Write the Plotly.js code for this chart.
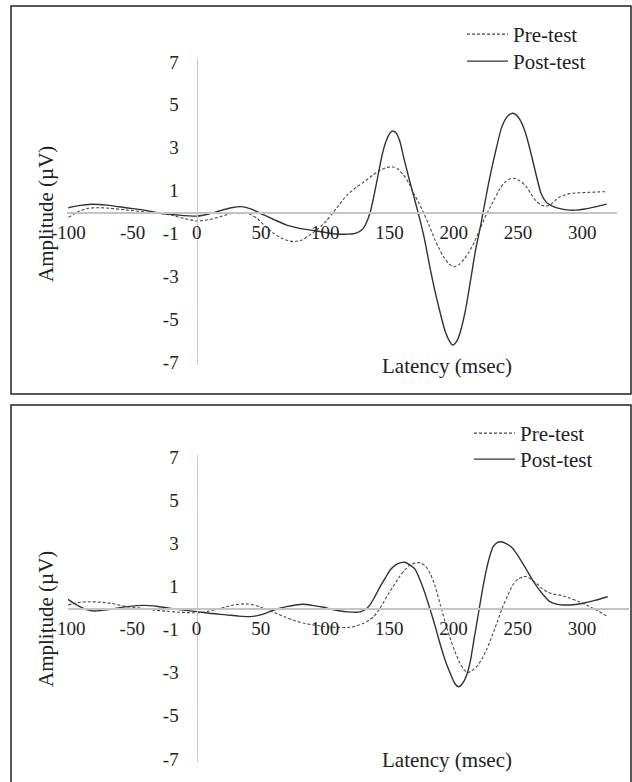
<!DOCTYPE html>
<html>
<head>
<meta charset="utf-8">
<script src="https://cdn.plot.ly/plotly-3.0.1.min.js"></script>
<style>html,body{margin:0;padding:0;background:#fff;}#chart{width:632px;height:782px;}</style>
</head>
<body>
<div id="chart"></div>
<script>
// ---------- data ----------
const xTicks = [-100, -50, 0, 50, 100, 150, 200, 250, 300];
const xTickText = ["-100", "-50", "0", "50", "100", "150", "200", "250", "300"];
const yTicks = [-7, -5, -3, -1, 1, 3, 5, 7];
const yTickText = ["-7", "-5", "-3", "-1", "1", "3", "5", "7"];
const seriesNames = ["Pre-test", "Post-test"];

// Panel A (top)
const topPreX = [-100,-92,-85,-75,-67,-55,-41,-30,-20,-10,0,10,18,27,35,42,47,53,60,67,75,82,88,95,101,105,109,117,124,130,137,143,148,152,157,161,165,169,173,177,181,185,189,192,196,200,204,208,212,216,220,224,228,232,236,240,244,247,251,256,260,264,268,271,275,279,283,290,298,306,313,319];
const topPreY = [-0.25,0.02,0.17,0.2,0.17,0.1,0.01,-0.06,-0.14,-0.3,-0.42,-0.35,-0.22,-0.07,-0.02,-0.12,-0.3,-0.65,-1.0,-1.25,-1.38,-1.3,-1.07,-0.75,-0.4,-0.1,0.2,0.8,1.15,1.4,1.72,1.96,2.08,2.11,1.98,1.72,1.35,0.85,0.4,-0.1,-0.65,-1.25,-1.75,-2.08,-2.4,-2.55,-2.45,-2.2,-1.85,-1.4,-0.85,-0.28,0.2,0.65,1.1,1.4,1.55,1.57,1.47,1.22,0.85,0.52,0.33,0.28,0.33,0.55,0.72,0.86,0.9,0.92,0.94,0.95];
const topPostX = [-100,-92,-82,-70,-55,-42,-28,-15,0,10,18,27,35,42,50,60,70,80,91,100,110,118,124,129,132,135,138,141,144,147,150,152,155,158,161,165,169,173,177,181,185,189,193,196,199,202,205,209,213,217,221,225,229,233,237,241,245,248,252,256,260,264,268,272,276,281,288,295,302,310,319];
const topPostY = [0.2,0.3,0.36,0.32,0.2,0.1,-0.06,-0.14,-0.19,-0.08,0.06,0.2,0.25,0.15,-0.07,-0.35,-0.61,-0.76,-0.86,-0.95,-1.03,-1.03,-0.98,-0.8,-0.5,0.0,0.8,1.7,2.6,3.25,3.65,3.78,3.7,3.3,2.55,1.6,0.7,-0.2,-1.2,-2.45,-3.6,-4.6,-5.5,-5.95,-6.2,-6.05,-5.6,-4.6,-3.2,-1.75,-0.6,0.7,1.9,2.95,3.9,4.4,4.6,4.55,4.25,3.65,2.75,1.75,0.85,0.45,0.3,0.18,0.1,0.09,0.14,0.24,0.37];

// Panel B (bottom)
const botPreX = [-100,-92,-83,-75,-67,-54,-42,-34,-24,-15,-5,3,10,16,22,29,35,39,44,49,55,62,69,75,83,91,100,109,119,125,130,134,138,143,148,153,158,162,166,170,174,178,182,186,190,194,197,201,205,208,211,214,218,222,226,230,234,238,242,246,250,254,257,261,265,269,273,278,284,291,297,304,312,320];
const botPreY = [0.14,0.25,0.29,0.27,0.22,0.06,-0.02,-0.09,-0.15,-0.19,-0.22,-0.22,-0.14,-0.06,0.04,0.14,0.18,0.19,0.15,0.06,-0.08,-0.25,-0.42,-0.56,-0.7,-0.79,-0.86,-0.9,-0.9,-0.82,-0.71,-0.58,-0.4,0.0,0.52,1.0,1.45,1.75,1.99,2.08,2.1,1.95,1.58,0.95,0.1,-0.75,-1.33,-2.0,-2.56,-2.85,-3.0,-2.92,-2.72,-2.38,-1.9,-1.3,-0.65,0.0,0.55,1.05,1.33,1.45,1.45,1.3,1.12,0.9,0.74,0.64,0.58,0.45,0.3,0.12,-0.12,-0.4];
const botPostX = [-100,-95,-90,-85,-80,-72,-67,-54,-41,-30,-20,-10,0,12,23,33,42,50,57,63,70,77,83,90,99,105,112,118,124,128,132,135,139,143,147,151,155,159,162,166,170,174,178,182,186,190,194,198,201,204,207,210,213,216,219,222,225,228,231,234,237,241,246,251,257,261,265,270,275,280,285,293,301,310,320];
const botPostY = [0.4,0.2,0.04,-0.09,-0.14,-0.1,-0.06,0.06,0.12,0.07,-0.02,-0.1,-0.17,-0.26,-0.32,-0.38,-0.4,-0.32,-0.17,-0.04,0.06,0.14,0.17,0.12,0.03,-0.06,-0.14,-0.18,-0.2,-0.17,-0.05,0.14,0.55,1.0,1.4,1.78,2.0,2.1,2.12,2.0,1.8,1.3,0.65,-0.1,-0.9,-1.75,-2.5,-3.1,-3.5,-3.65,-3.5,-3.15,-2.5,-1.45,-0.4,0.65,1.6,2.35,2.85,3.03,3.07,2.98,2.77,2.35,1.76,1.35,0.99,0.6,0.29,0.18,0.14,0.15,0.22,0.35,0.52];

// ---------- layout helpers (pixel -> paper) ----------
const W = 632, H = 782;
const px = v => v / W;
const py = v => 1 - v / H;
const FONT = "Liberation Serif, Times New Roman, serif";
const TXT = "#222";

const preStyle = {color: "#4a4a4a", width: 1.1, dash: "3px,2px", shape: "spline", smoothing: 0.6};
const postStyle = {color: "#333", width: 1.4, shape: "spline", smoothing: 0.6};

const traces = [
  {x: topPreX, y: topPreY, name: seriesNames[0], mode: "lines", line: preStyle, xaxis: "x", yaxis: "y", legend: "legend"},
  {x: topPostX, y: topPostY, name: seriesNames[1], mode: "lines", line: postStyle, xaxis: "x", yaxis: "y", legend: "legend2"},
  {x: botPreX, y: botPreY, name: seriesNames[0], mode: "lines", line: preStyle, xaxis: "x2", yaxis: "y2", legend: "legend3"},
  {x: botPostX, y: botPostY, name: seriesNames[1], mode: "lines", line: postStyle, xaxis: "x2", yaxis: "y2", legend: "legend4"}
];

const xBase = {
  anchor: "free", showline: true, linecolor: "#c4c4c4", linewidth: 1.5,
  showgrid: false, zeroline: false, tickmode: "array", tickvals: xTicks, ticktext: xTickText,
  ticks: "", ticklabelstandoff: 3, tickfont: {family: FONT, size: 19, color: TXT}, fixedrange: true
};
const yBase = {
  anchor: "free", showline: true, linecolor: "#c8c8c8", linewidth: 1,
  showgrid: false, zeroline: false, tickmode: "array", tickvals: yTicks, ticktext: yTickText,
  ticks: "", ticklabelstandoff: 14, tickfont: {family: FONT, size: 19, color: TXT}, fixedrange: true
};

const legendBase = {
  xanchor: "left", yanchor: "top", bgcolor: "rgba(0,0,0,0)", borderwidth: 0,
  font: {family: FONT, size: 21, color: TXT}, itemwidth: 41
};

const titleFont = {family: FONT, size: 21, color: TXT};

const layout = {
  width: W, height: H,
  margin: {l: 0, r: 0, t: 0, b: 0},
  paper_bgcolor: "#fff", plot_bgcolor: "rgba(0,0,0,0)",
  showlegend: true,
  xaxis: Object.assign({}, xBase, {domain: [px(67), px(617)], range: [-101, 327], position: py(212)}),
  yaxis: Object.assign({}, yBase, {domain: [py(365), py(58)], range: [-7.13, 7.18], position: px(196.5)}),
  xaxis2: Object.assign({}, xBase, {domain: [px(68), px(629)], range: [-100, 336.6], position: py(608)}),
  yaxis2: Object.assign({}, yBase, {domain: [py(762), py(455)], range: [-7.14, 7.09], position: px(196.5)}),
  legend: Object.assign({}, legendBase, {x: px(462), y: py(14)}),
  legend2: Object.assign({}, legendBase, {x: px(462), y: py(41)}),
  legend3: Object.assign({}, legendBase, {x: px(469), y: py(413)}),
  legend4: Object.assign({}, legendBase, {x: px(469), y: py(439)}),
  shapes: [
    {type: "rect", xref: "paper", yref: "paper", x0: px(11), x1: px(631), y0: py(394), y1: py(6), line: {color: "#222", width: 1.5}},
    {type: "rect", xref: "paper", yref: "paper", x0: px(11), x1: px(631), y0: py(800), y1: py(405), line: {color: "#222", width: 1.5}}
  ],
  annotations: [
    {text: "Amplitude (µV)", xref: "paper", yref: "paper", x: px(46), y: py(214), textangle: -90, showarrow: false, xanchor: "center", yanchor: "middle", font: titleFont},
    {text: "Latency (msec)", xref: "paper", yref: "paper", x: px(447), y: py(366), showarrow: false, xanchor: "center", yanchor: "middle", font: titleFont},
    {text: "Amplitude (µV)", xref: "paper", yref: "paper", x: px(46), y: py(619), textangle: -90, showarrow: false, xanchor: "center", yanchor: "middle", font: titleFont},
    {text: "Latency (msec)", xref: "paper", yref: "paper", x: px(447), y: py(760), showarrow: false, xanchor: "center", yanchor: "middle", font: titleFont}
  ]
};

Plotly.newPlot("chart", traces, layout, {displayModeBar: false, staticPlot: true});
</script>
</body>
</html>
